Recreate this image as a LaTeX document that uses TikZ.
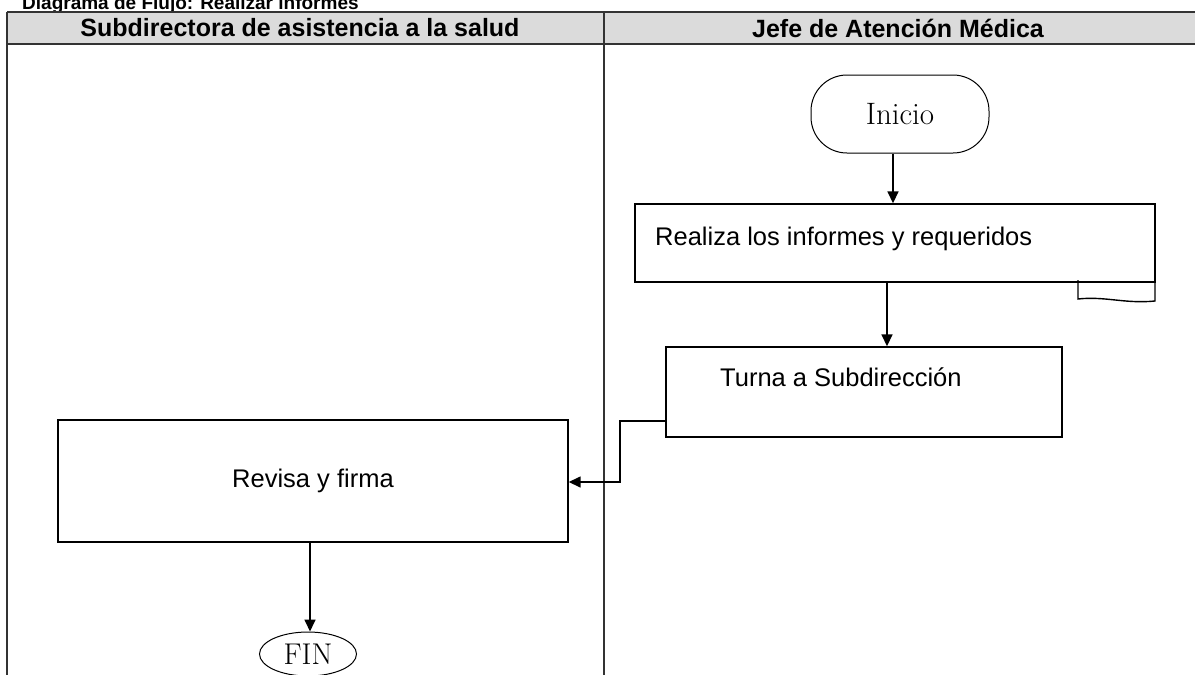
\documentclass[tikz,border=0pt]{standalone}
\usepackage{fontspec}
\setsansfont{Liberation Sans}
\usetikzlibrary{arrows.meta,shapes.geometric}
\begin{document}
\begin{tikzpicture}[x=1pt,y=-1pt,
  lane/.style={line width=1.2pt, draw=black!80},
  headfill/.style={fill=black!14},
  headtext/.style={font=\sffamily\bfseries\fontsize{25}{29}\selectfont, anchor=center},
  proc/.style={draw, line width=1.4pt, rectangle, inner sep=0pt},
  ptext/.style={font=\sffamily\fontsize{25.5}{30}\selectfont, anchor=base west},
  flow/.style={line width=1.7pt, -{Triangle[length=12pt,width=11pt]}},
  term/.style={draw, line width=1pt, font=\fontsize{31}{35}\selectfont}
]
\useasboundingbox (0,0) rectangle (1195,675);
% title (cut off at top, as in the reference)
\node[font=\sffamily\bfseries\fontsize{19}{23}\selectfont, anchor=base west, inner sep=0pt] (title) at (22,9) {Diagrama de Flujo: Realizar informes};
% header row
\path[headfill] (7,12) rectangle (1195,44);
\draw[lane] (7,12) -- (1195,12);
\draw[lane] (7,44) -- (1195,44);
\draw[lane] (7,12) -- (7,675);
\draw[lane] (604,12) -- (604,675);
\node[headtext] (h1) at (300,28) {Subdirectora de asistencia a la salud};
\node[headtext] (h2) at (898,28) {Jefe de Atención Médica};
% Inicio
\node[term, rounded corners=36pt, minimum width=178pt, minimum height=78pt, inner sep=0pt] (inicio) at (900,114) {Inicio};
% Realiza box
\node[proc, minimum width=520pt, minimum height=78pt] (realiza) at (895,243) {};
\node[ptext, inner sep=0pt] (realizat) at (655,245) {Realiza los informes y requeridos};
% tab under Realiza box
\draw[line width=1.4pt] (1078,280) -- (1078,299) .. controls (1105,296) and (1125,304) .. (1155,301) -- (1155,280);
% Turna box
\node[proc, minimum width=396pt, minimum height=90pt] (turna) at (864,392) {};
\node[ptext, inner sep=0pt] (turnat) at (720,386) {Turna a Subdirección};
% Revisa box
\node[proc, minimum width=510pt, minimum height=122pt, font=\sffamily\fontsize{25.5}{30}\selectfont] (revisa) at (313,481) {Revisa y firma};
% FIN
\node[term, ellipse, minimum width=97pt, minimum height=44pt, inner sep=0pt, font=\fontsize{30}{34}\selectfont] (fin) at (308,654) {FIN};
% connectors
\draw[flow] (inicio.south -| 893,0) -- (realiza.north -| 893,0);
\draw[flow] (realiza.south -| 887,0) -- (turna.north -| 887,0);
\coordinate (c1) at (620,421);
\coordinate (c2) at (620,482);
\draw[flow, line width=1.5pt] (turna.west |- c1) -- (c1) -- (c2) -- (revisa.east |- c2);
\draw[flow] (revisa.south -| 310,0) -- (fin.north -| 310,0);
\end{tikzpicture}
\end{document}
